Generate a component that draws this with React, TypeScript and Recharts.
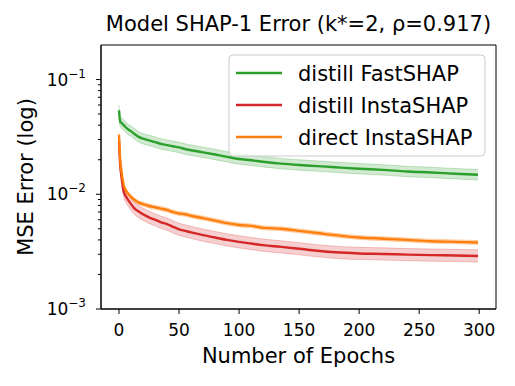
import { Area, ComposedChart, Line, ReferenceArea, XAxis, YAxis } from 'recharts';

const FONT = '"DejaVu Sans", sans-serif';

const epochs = [0, 1, 2, 4, 6, 8, 10, 13, 16, 20, 25, 30, 35, 40, 45, 50, 55, 60, 70, 80, 90, 100, 110, 120, 135, 150, 165, 180, 200, 220, 240, 260, 280, 299];

const fastshapDistill = [0.054, 0.043, 0.042, 0.04, 0.038, 0.0365, 0.0355, 0.0335, 0.0318, 0.0305, 0.0295, 0.0285, 0.0275, 0.0268, 0.0262, 0.0256, 0.0248, 0.0242, 0.0232, 0.0222, 0.0212, 0.0203, 0.0198, 0.0192, 0.0185, 0.018, 0.0176, 0.0172, 0.0167, 0.0163, 0.0158, 0.0155, 0.0151, 0.0148];
const instashapDistill = [0.029, 0.018, 0.0145, 0.0105, 0.0095, 0.0088, 0.0082, 0.0075, 0.0071, 0.0067, 0.0063, 0.006, 0.0057, 0.0055, 0.0052, 0.00495, 0.0048, 0.00465, 0.0044, 0.0042, 0.004, 0.00385, 0.00372, 0.0036, 0.00348, 0.00335, 0.00322, 0.00312, 0.00305, 0.00302, 0.00298, 0.00295, 0.00293, 0.0029];
const instashapDirect = [0.033, 0.02, 0.016, 0.012, 0.0107, 0.01, 0.0095, 0.0089, 0.0085, 0.0082, 0.0079, 0.0077, 0.0075, 0.0073, 0.007, 0.0068, 0.0067, 0.0065, 0.0062, 0.0059, 0.0056, 0.0054, 0.0053, 0.0051, 0.005, 0.0048, 0.0046, 0.0044, 0.0042, 0.0041, 0.004, 0.0039, 0.00385, 0.0038];

// relative half width of the shaded bands
const bandSpread = { green: 0.11, red: 0.13, orange: 0.04 };

const xTicks = [0, 50, 100, 150, 200, 250, 300];
const yTicks = [0.001, 0.002, 0.003, 0.004, 0.005, 0.006, 0.007, 0.008, 0.009, 0.01, 0.02, 0.03, 0.04, 0.05, 0.06, 0.07, 0.08, 0.09, 0.1];

const legendItems = [
  { name: 'distill FastSHAP', color: '#2ca02c' },
  { name: 'distill InstaSHAP', color: '#d62728' },
  { name: 'direct InstaSHAP', color: '#ff7f0e' },
];

const band = (v: number, s: number) => [v / (1 + s), v * (1 + s)];

const data = epochs.map((e, i) => ({
  epoch: e,
  green: fastshapDistill[i],
  greenBand: band(fastshapDistill[i], bandSpread.green),
  red: instashapDistill[i],
  redBand: band(instashapDistill[i], bandSpread.red),
  orange: instashapDirect[i],
  orangeBand: band(instashapDirect[i], bandSpread.orange),
}));

const YTick = (props: any) => {
  const { x, y, payload } = props;
  const lg = Math.log10(payload.value);
  const exp = Math.round(lg);
  const major = Math.abs(lg - exp) < 1e-6;
  return (
    <g>
      <line x1={x - (major ? 5 : 3)} x2={x} y1={y} y2={y} stroke="#000" strokeWidth={1} />
      {major && (
        <text x={x - 15} y={y + 6} textAnchor="end" fontSize={17} fontFamily={FONT} fill="#000">
          10<tspan dy={-8} fontSize={12}>{'\u2212' + -exp}</tspan>
        </text>
      )}
    </g>
  );
};

const App = () => {
  return (
    <div style={{ position: 'absolute', left: 0, top: 0, width: 515, height: 386, background: '#fff' }}>
      <ComposedChart width={515} height={386} data={data} margin={{ top: 45, right: 19, bottom: 0, left: 0 }}>
        <XAxis
          dataKey="epoch"
          type="number"
          domain={[-15, 314]}
          ticks={xTicks}
          interval={0}
          height={77}
          tickSize={5}
          tickMargin={10}
          stroke="#000"
          tick={{ fill: '#000', fontSize: 17, fontFamily: FONT }}
        />
        <YAxis
          type="number"
          scale="log"
          domain={[0.001, 0.2]}
          allowDataOverflow
          ticks={yTicks}
          interval={0}
          width={101}
          tickSize={0}
          tickMargin={0}
          tickLine={false}
          stroke="#000"
          tick={(p: any) => <YTick {...p} />}
        />
        {/* full box around the plot */}
        <ReferenceArea x1={-15} x2={314} y1={0.001} y2={0.2} fill="none" stroke="#000" strokeWidth={1} ifOverflow="visible" />

        <Area dataKey="greenBand" type="monotone" fill="#2ca02c" fillOpacity={0.22} stroke="#2ca02c" strokeOpacity={0.25} isAnimationActive={false} />
        <Line dataKey="green" type="monotone" stroke="#2ca02c" strokeWidth={2.4} dot={false} isAnimationActive={false} />
        <Area dataKey="redBand" type="monotone" fill="#d62728" fillOpacity={0.22} stroke="#d62728" strokeOpacity={0.25} isAnimationActive={false} />
        <Line dataKey="red" type="monotone" stroke="#d62728" strokeWidth={2.4} dot={false} isAnimationActive={false} />
        <Area dataKey="orangeBand" type="monotone" fill="#ff7f0e" fillOpacity={0.25} stroke="#ff7f0e" strokeOpacity={0.3} isAnimationActive={false} />
        <Line dataKey="orange" type="monotone" stroke="#ff7f0e" strokeWidth={2.4} dot={false} isAnimationActive={false} />
      </ComposedChart>

      <svg width={515} height={386} style={{ position: 'absolute', left: 0, top: 0, pointerEvents: 'none' }}>
        <text x={298.5} y={31} textAnchor="middle" fontSize={21} fontFamily={FONT} fill="#000">
          Model SHAP-1 Error (k*=2, ρ=0.917)
        </text>
        <text x={298.5} y={363} textAnchor="middle" fontSize={21} fontFamily={FONT} fill="#000">
          Number of Epochs
        </text>
        <text transform="translate(33,177) rotate(-90)" textAnchor="middle" fontSize={21} fontFamily={FONT} fill="#000">
          MSE Error (log)
        </text>
        <rect x={229} y={55} width={256} height={101} rx={4} fill="#fff" fillOpacity={0.8} stroke="#cccccc" strokeWidth={1} />
        {legendItems.map((it, i) => {
          const cy = 73 + i * 32;
          return (
            <g key={it.name}>
              <line x1={236} x2={282} y1={cy} y2={cy} stroke={it.color} strokeWidth={2.4} />
              <text x={298} y={cy + 7.5} fontSize={21} fontFamily={FONT} fill="#000">
                {it.name}
              </text>
            </g>
          );
        })}
      </svg>
    </div>
  );
};

export default App;
